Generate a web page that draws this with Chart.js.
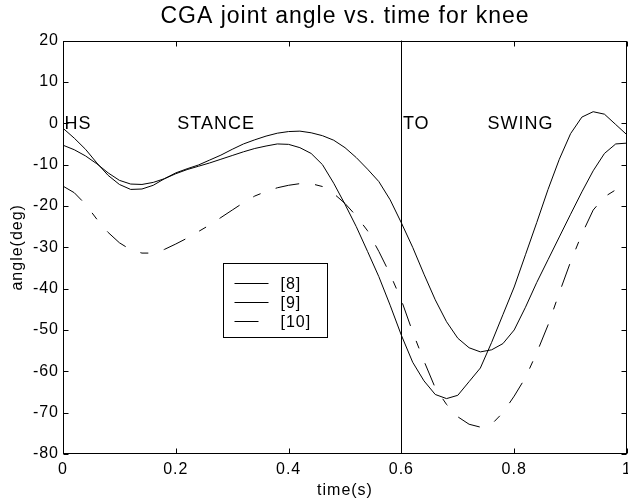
<!DOCTYPE html>
<html>
<head>
<meta charset="utf-8">
<script src="https://cdn.jsdelivr.net/npm/chart.js@4.4.1/dist/chart.umd.min.js"></script>
<style>
  html, body { margin: 0; padding: 0; background: #fff; }
  #wrap { width: 628px; height: 500px; }
</style>
</head>
<body>
<div id="wrap"><canvas id="chart" width="628" height="500"></canvas></div>
<script>
// time samples (s), every 0.02 s over one gait cycle
const times = [
  0.00, 0.02, 0.04, 0.06, 0.08, 0.10, 0.12, 0.14, 0.16, 0.18,
  0.20, 0.22, 0.24, 0.26, 0.28, 0.30, 0.32, 0.34, 0.36, 0.38,
  0.40, 0.42, 0.44, 0.46, 0.48, 0.50, 0.52, 0.54, 0.56, 0.58,
  0.60, 0.62, 0.64, 0.66, 0.68, 0.70, 0.72, 0.74, 0.76, 0.78,
  0.80, 0.82, 0.84, 0.86, 0.88, 0.90, 0.92, 0.94, 0.96, 0.98, 1.00
]

// knee angle (deg) read from the three sources
const angle8 = [
  -1.2, -3.6, -6.3, -9.6, -12.6, -14.8, -16.0, -15.9, -15.0, -13.4,
  -12.0, -11.0, -10.1, -8.9, -7.7, -6.3, -5.0, -4.0, -3.1, -2.4,
  -2.0, -1.9, -2.3, -3.0, -4.1, -5.9, -8.3, -11.1, -14.1, -18.5,
  -24.1, -30.0, -36.5, -42.7, -48.0, -52.0, -54.3, -55.3, -54.8, -53.3,
  -50.0, -44.5, -38.5, -33.0, -27.5, -22.0, -16.6, -11.5, -7.3, -5.0, -4.8
]
const angle9 = [
  -5.3, -6.4, -7.9, -9.8, -12.0, -13.8, -14.7, -14.8, -14.3, -13.4,
  -12.2, -11.2, -10.4, -9.6, -8.7, -7.8, -6.9, -6.1, -5.5, -5.0,
  -5.1, -5.9, -7.3, -10.0, -14.5, -19.6, -25.0, -31.0, -37.1, -44.0,
  -51.3, -57.8, -62.3, -65.6, -66.6, -65.8, -62.5, -59.2, -53.0, -46.3,
  -39.6, -31.8, -24.0, -16.0, -8.7, -2.5, 1.5, 2.8, 2.2, -0.3, -2.8
]
const angle10 = [
  -15.2, -16.8, -19.6, -23.2, -26.4, -28.9, -30.6, -31.4, -31.4, -30.5,
  -29.2, -27.8, -26.2, -24.6, -22.8, -21.0, -19.2, -17.6, -16.5, -15.6,
  -15.0, -14.6, -14.6, -15.3, -17.0, -19.4, -22.4, -26.0, -31.0, -36.5,
  -42.8, -50.5, -57.5, -64.0, -68.0, -71.0, -72.8, -73.5, -72.8, -70.0,
  -66.0, -61.5, -55.5, -48.8, -41.0, -33.5, -26.8, -21.0, -17.8, -16.1, -16.0
]

const seriesLabels = ['[8]', '[9]', '[10]']

// gait phase markers
const phaseLabels = ['HS', 'STANCE', 'TO', 'SWING']
const phaseTimes = [0, 0.2, 0.6, 0.75]
const phaseAngle = 0
const toeOffTime = 0.6

const xMin = 0, xMax = 1, xStep = 0.2
const yMin = -80, yMax = 20, yStep = 10

const FONT = "'Liberation Sans', Arial, Helvetica, sans-serif"
const dashDot = [24, 16, 8, 16]

const toPoints = vals => vals.map((v, i) => ({ x: times[i], y: v }))
const tickText = v => String(Number(v.toFixed(2)))

// matlab-ish text spacing
const spacing = {
  id: 'spacing',
  beforeDraw(chart) {
    chart.ctx.letterSpacing = '1px'
  }
}

// box around the axes with inward ticks on all sides, plus the TO line
const frame = {
  id: 'frame',
  afterDatasetsDraw(chart) {
    const { ctx, chartArea: a, scales: { x, y } } = chart
    const L = Math.round(a.left) + 0.5
    const R = Math.round(a.right) - 0.5
    const T = Math.round(a.top) + 0.5
    const B = Math.round(a.bottom) - 0.5
    const len = 5
    ctx.save()
    ctx.strokeStyle = '#000'
    ctx.lineWidth = 1
    ctx.setLineDash([])
    ctx.strokeRect(L, T, R - L, B - T)
    ctx.beginPath()
    x.ticks.forEach(t => {
      const px = Math.round(x.getPixelForValue(t.value)) + 0.5
      ctx.moveTo(px, B); ctx.lineTo(px, B - len)
      ctx.moveTo(px, T); ctx.lineTo(px, T + len)
    })
    y.ticks.forEach(t => {
      const py = Math.round(y.getPixelForValue(t.value)) + 0.5
      ctx.moveTo(L, py); ctx.lineTo(L + len, py)
      ctx.moveTo(R, py); ctx.lineTo(R - len, py)
    })
    const toX = Math.round(x.getPixelForValue(toeOffTime)) + 0.5
    ctx.moveTo(toX, y.getPixelForValue(yMax))
    ctx.lineTo(toX, y.getPixelForValue(yMin))
    ctx.stroke()

    // phase labels
    ctx.fillStyle = '#000'
    ctx.font = '18px ' + FONT
    ctx.textAlign = 'left'
    ctx.textBaseline = 'middle'
    phaseLabels.forEach((lbl, i) => {
      ctx.fillText(lbl, x.getPixelForValue(phaseTimes[i]) + 1.5, y.getPixelForValue(phaseAngle) + 1)
    })
    ctx.restore()
  }
}

// legend box inside the axes
const boxLegend = {
  id: 'boxLegend',
  afterDraw(chart) {
    const { ctx, chartArea: a } = chart
    const left = Math.round(a.left + 160) + 0.5
    const top = Math.round(a.top + 222) + 0.5
    const w = 104, h = 74
    ctx.save()
    ctx.fillStyle = '#fff'
    ctx.fillRect(left, top, w, h)
    ctx.strokeStyle = '#000'
    ctx.lineWidth = 1
    ctx.setLineDash([])
    ctx.strokeRect(left, top, w, h)
    ctx.font = '16px ' + FONT
    ctx.textAlign = 'left'
    ctx.textBaseline = 'middle'
    ctx.fillStyle = '#000'
    seriesLabels.forEach((lbl, i) => {
      const ds = chart.data.datasets[i]
      const rowY = Math.round(top + 19 + i * 19) + 0.5
      ctx.beginPath()
      ctx.setLineDash(ds.borderDash || [])
      ctx.moveTo(left + 11, rowY)
      ctx.lineTo(left + 45, rowY)
      ctx.stroke()
      ctx.fillText(lbl, left + 57, rowY + 1)
    })
    ctx.restore()
  }
}

const lineStyle = {
  borderColor: '#000',
  borderWidth: 1,
  pointRadius: 0,
  tension: 0,
  fill: false
}

const config = {
  type: 'line',
  data: {
    datasets: [
      { label: seriesLabels[0], data: toPoints(angle8), ...lineStyle },
      { label: seriesLabels[1], data: toPoints(angle9), ...lineStyle },
      { label: seriesLabels[2], data: toPoints(angle10), ...lineStyle, borderDash: dashDot }
    ]
  },
  options: {
    responsive: false,
    animation: false,
    devicePixelRatio: 1,
    layout: { padding: { left: 0, right: 1, top: 0, bottom: 0 } },
    plugins: {
      legend: { display: false },
      tooltip: { enabled: false },
      title: {
        display: true,
        fullSize: false,
        text: 'CGA joint angle vs. time for knee',
        color: '#000',
        font: { family: FONT, size: 23, weight: 'normal' },
        padding: { top: 3, bottom: 10 }
      }
    },
    scales: {
      x: {
        type: 'linear',
        min: xMin,
        max: xMax,
        grid: { display: false, drawTicks: false },
        border: { display: false },
        ticks: {
          stepSize: xStep,
          color: '#000',
          padding: 6,
          maxRotation: 0,
          font: { family: FONT, size: 16 },
          callback: v => tickText(v)
        },
        title: {
          display: true,
          text: 'time(s)',
          color: '#000',
          font: { family: FONT, size: 16 },
          padding: { top: 2, bottom: 0 }
        },
        afterFit: s => {
          s.height = 46
          s.paddingLeft = 0
          s.paddingRight = 0
        }
      },
      y: {
        type: 'linear',
        min: yMin,
        max: yMax,
        grid: { display: false, drawTicks: false },
        border: { display: false },
        ticks: {
          stepSize: yStep,
          color: '#000',
          padding: 4,
          font: { family: FONT, size: 16 },
          callback: v => tickText(v)
        },
        title: {
          display: true,
          text: 'angle(deg)',
          color: '#000',
          font: { family: FONT, size: 16 },
          padding: { top: 8, bottom: 0 }
        },
        afterFit: s => {
          s.width = 63
          s.paddingTop = 0
          s.paddingBottom = 0
        }
      }
    }
  },
  plugins: [spacing, frame, boxLegend]
}

new Chart(document.getElementById('chart'), config)
</script>
</body>
</html>
